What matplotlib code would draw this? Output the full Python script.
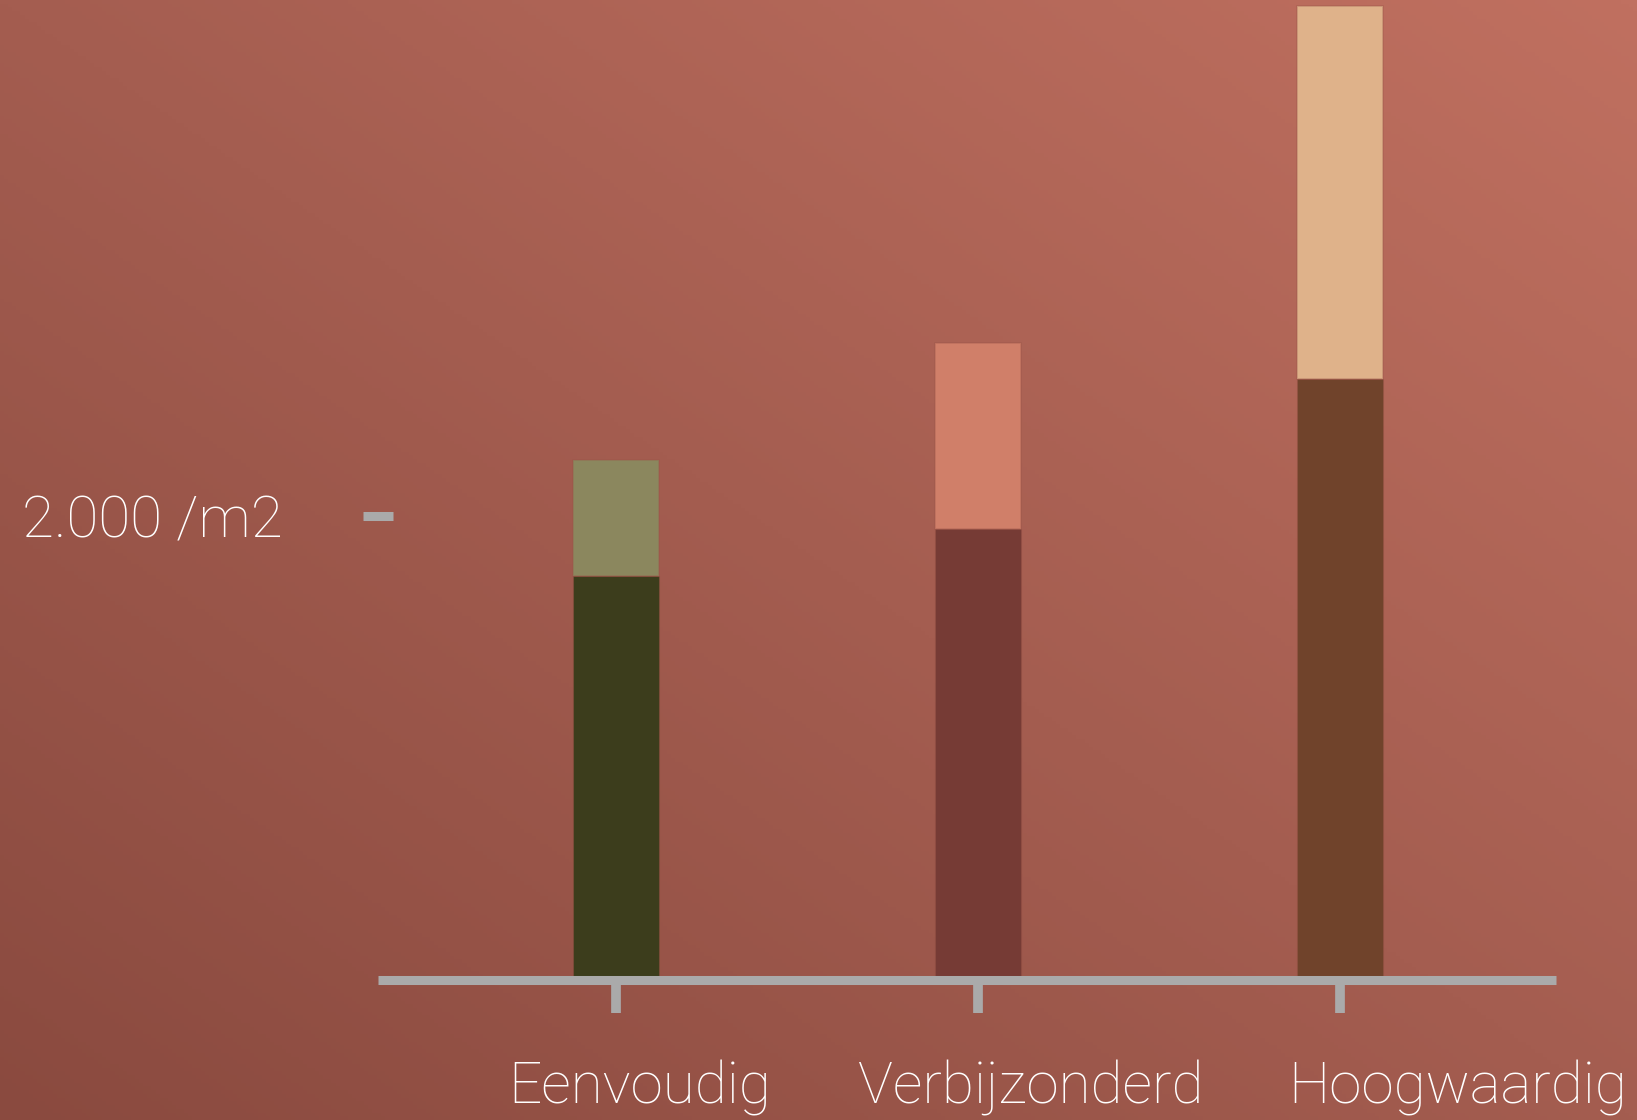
import matplotlib.pyplot as plt
import numpy as np
from matplotlib.colors import LinearSegmentedColormap
from matplotlib.transforms import blended_transform_factory

# data
categories = ['Eenvoudig', 'Verbijzonderd', 'Hoogwaardig']
base_values = [1740, 1945, 2590]
top_values = [500, 800, 1610]
base_colors = ['#3c3d1c', '#763b35', '#70432b']
top_colors = ['#8b875e', '#d07f69', '#dfb28a']
ytick_values = [2000]
ytick_labels = ['2.000 /m2']

# label offsets (left edge, relative to the bar centre)
label_offsets = [-0.298, -0.33, -0.142]

plt.rcParams['font.family'] = ['Roboto', 'DejaVu Sans']

fig = plt.figure(figsize=(16.37, 11.20), dpi=100)

# diagonal background gradient
bg = fig.add_axes([0, 0, 1, 1], zorder=-1)
xx, yy = np.meshgrid(np.linspace(0, 1, 400), np.linspace(0, 1, 300))
grad = (xx + yy) / 2
cmap = LinearSegmentedColormap.from_list('bg', ['#8a4a3f', '#a45d50', '#c07060'])
bg.imshow(grad, cmap=cmap, origin='lower', aspect='auto', extent=[0, 1, 0, 1])
bg.axis('off')

ax = fig.add_axes([378 / 1637, 140 / 1120, (1556 - 378) / 1637, 980 / 1120])
ax.set_facecolor('none')

x = np.arange(len(categories))
width = 0.2376
edge = (0.6, 0.33, 0.28, 0.35)
ax.bar(x, base_values, width=width, color=base_colors, edgecolor=edge, linewidth=0.8, zorder=2)
ax.bar(x, top_values, width=width, bottom=base_values, color=top_colors,
       edgecolor=edge, linewidth=1.2, zorder=2)

ax.set_xlim(-0.657, 2.597)
ax.set_ylim(0, 4224)

for s in ['top', 'right', 'left']:
    ax.spines[s].set_visible(False)
ax.spines['bottom'].set_color('#aaaaaa')
ax.spines['bottom'].set_linewidth(6.5)
ax.spines['bottom'].set_capstyle('butt')
ax.spines['bottom'].set_zorder(3)

ax.set_xticks(x)
ax.set_xticklabels([])
ax.tick_params(axis='x', direction='out', length=24, width=7, color='#aaaaaa')

ax.set_yticks(ytick_values)
ax.set_yticklabels(ytick_labels)
ax.tick_params(axis='y', direction='inout', length=21, width=6.5, color='#aaaaaa',
               pad=58, labelsize=42, labelcolor='white')
for lbl in ax.get_yticklabels():
    lbl.set_fontweight('light')

trans = blended_transform_factory(ax.transData, ax.transAxes)
for i, name in enumerate(categories):
    ax.text(x[i] + label_offsets[i], -0.1265, name, transform=trans,
            ha='left', va='baseline', fontsize=42, color='white',
            fontweight='light')

fig.savefig('out.png', dpi=100)
plt.close(fig)
